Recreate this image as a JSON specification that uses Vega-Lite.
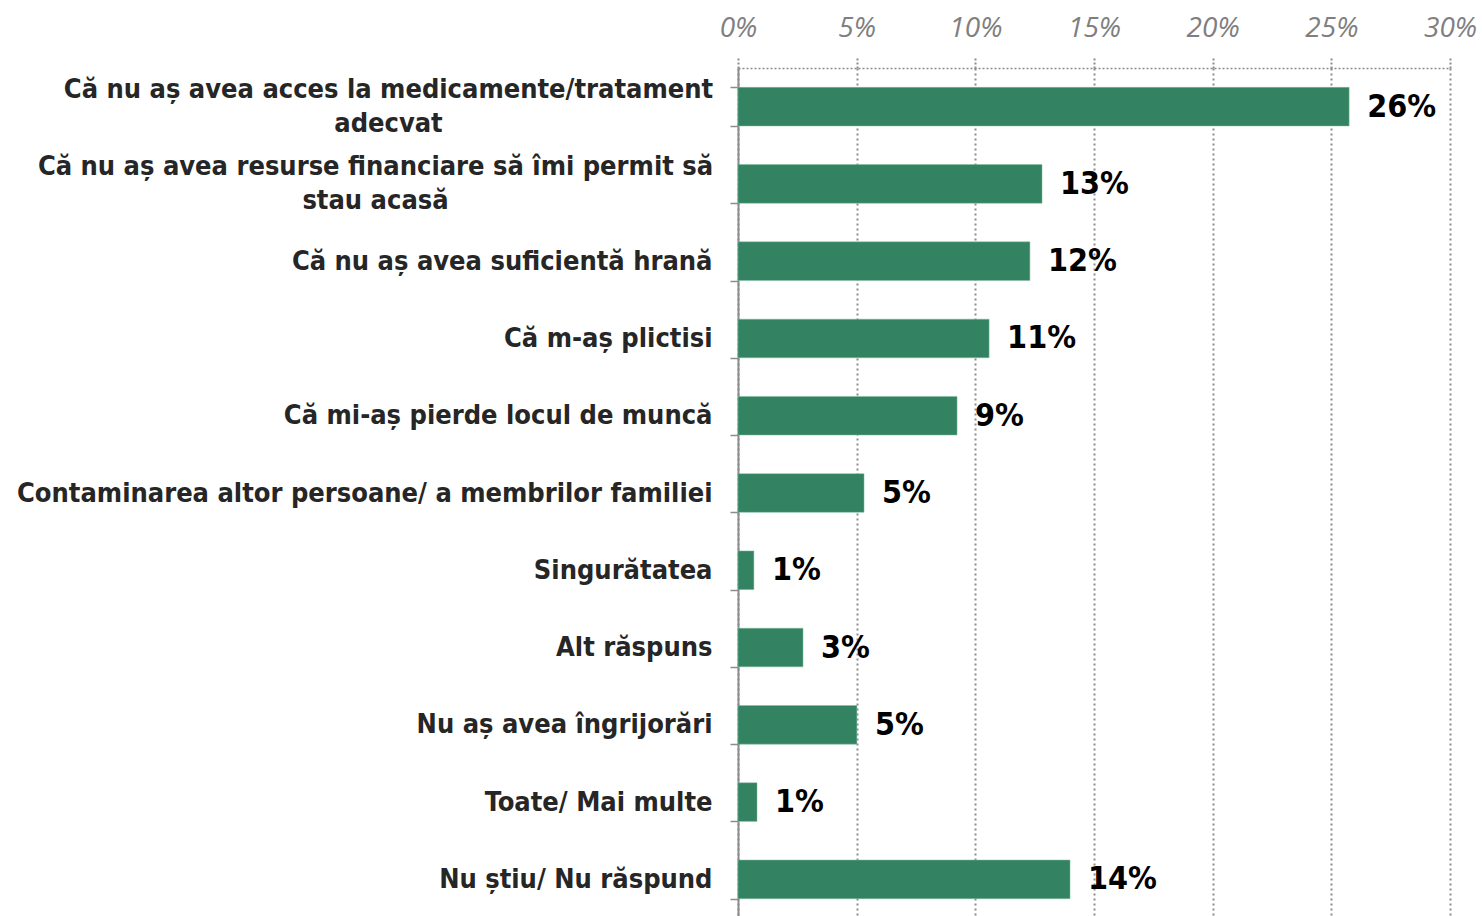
{
  "$schema": "https://vega.github.io/schema/vega-lite/v6.json",
  "autosize": "none",
  "width": 712,
  "height": 850,
  "padding": {"left": 738, "top": 68, "right": 32, "bottom": 0},
  "background": "white",
  "config": {"view": {"stroke": null}},
  "data": {
    "values": [
      {"cat": "Că nu aș avea acces la medicamente/tratament|adecvat", "value": 25.75, "label": "26%"},
      {"cat": "Că nu aș avea resurse financiare să îmi permit să|stau acasă", "value": 12.81, "label": "13%"},
      {"cat": "Că nu aș avea suficientă hrană", "value": 12.3, "label": "12%"},
      {"cat": "Că m-aș plictisi", "value": 10.58, "label": "11%"},
      {"cat": "Că mi-aș pierde locul de muncă", "value": 9.23, "label": "9%"},
      {"cat": "Contaminarea altor persoane/ a membrilor familiei", "value": 5.31, "label": "5%"},
      {"cat": "Singurătatea", "value": 0.67, "label": "1%"},
      {"cat": "Alt răspuns", "value": 2.74, "label": "3%"},
      {"cat": "Nu aș avea îngrijorări", "value": 5.01, "label": "5%"},
      {"cat": "Toate/ Mai multe", "value": 0.8, "label": "1%"},
      {"cat": "Nu știu/ Nu răspund", "value": 13.99, "label": "14%"}
    ]
  },
  "encoding": {
    "y": {
      "field": "cat", "type": "nominal", "sort": null,
      "scale": {"paddingInner": 0.5, "paddingOuter": 0.25},
      "axis": {
        "title": null,
        "labelExpr": "datum.value ? split(datum.value, '|') : ''",
        "labelFont": "DejaVu Sans Condensed", "labelFontWeight": "bold", "labelFontSize": 27,
        "labelColor": "#262626", "labelLimit": 800,
        "labelLineHeight": 34,
        "labelAlign": {"condition": {"test": "datum.value && indexof(datum.value, '|') >= 0", "value": "center"}, "value": "right"},
        "labelPadding": {"condition": [
          {"test": "datum.value && indexof(datum.value, 'acces') >= 0", "value": 342},
          {"test": "datum.value && indexof(datum.value, 'resurse') >= 0", "value": 355}
        ], "value": 18},
        "labelOffset": {"condition": {"test": "datum.value && indexof(datum.value, '|') >= 0", "value": -17}, "value": 0},
        "domainColor": "#8c8c8c", "domainWidth": 2,
        "tickBand": "extent", "tickSize": 8, "tickColor": "#8c8c8c", "tickWidth": 1.5,
        "grid": false
      }
    }
  },
  "layer": [
    {
      "mark": {"type": "bar", "color": "#338262", "stroke": "#7fbfa0", "strokeWidth": 0.5},
      "encoding": {
        "x": {
          "field": "value", "type": "quantitative",
          "scale": {"domain": [0, 30], "nice": false},
          "axis": {
            "orient": "top", "title": null, "values": [0, 5, 10, 15, 20, 25, 30],
            "labelExpr": "datum.value + '%'", "labelFlush": false,
            "labelFont": "Open Sans", "labelFontStyle": "italic", "labelFontSize": 28,
            "labelColor": "#7f7f7f", "labelPadding": 16,
            "domainColor": "#8c8c8c", "domainDash": [2, 2], "domainWidth": 1.5,
            "tickColor": "#8c8c8c", "tickDash": [2, 2], "tickSize": 10, "tickWidth": 2,
            "grid": true, "gridColor": "#8c8c8c", "gridDash": [2, 3], "gridWidth": 2
          }
        }
      }
    },
    {
      "mark": {"type": "text", "align": "left", "baseline": "middle", "dx": 18, "font": "DejaVu Sans Condensed", "fontWeight": "bold", "fontSize": 32, "color": "black"},
      "encoding": {
        "x": {"field": "value", "type": "quantitative"},
        "text": {"field": "label"}
      }
    }
  ]
}
